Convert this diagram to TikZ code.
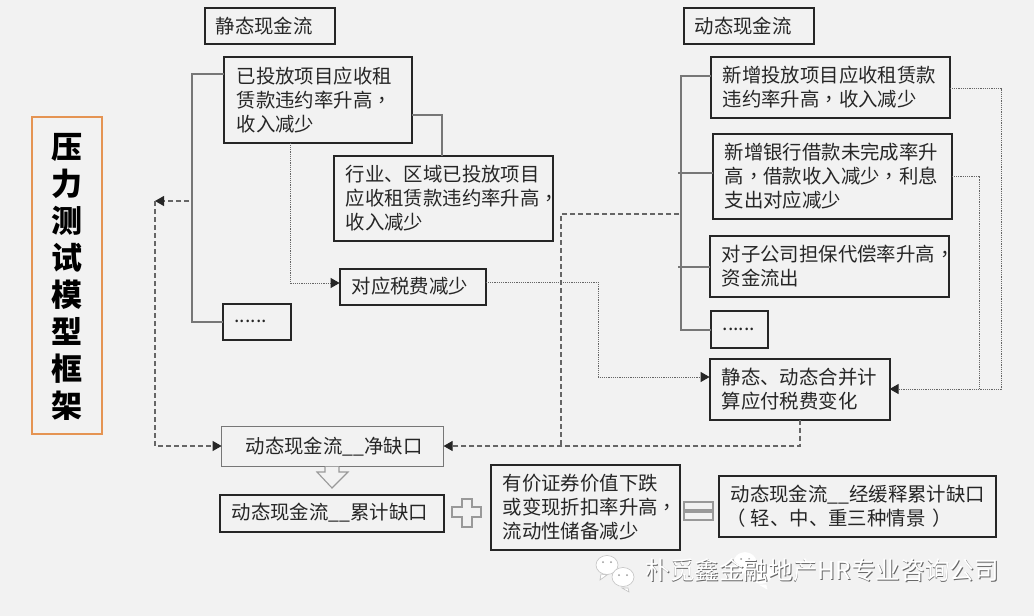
\documentclass[tikz,border=0pt]{standalone}
\usepackage{fontspec}
\setmainfont{Noto Sans CJK SC}
\newfontfamily\twfont{Noto Sans CJK TC}
\usetikzlibrary{arrows.meta,calc}
\definecolor{figbg}{HTML}{F2F2F2}
\definecolor{figink}{HTML}{262626}
\definecolor{figline}{HTML}{777777}
\definecolor{figdash}{HTML}{666666}
\definecolor{figsign}{HTML}{999999}
\definecolor{figorange}{HTML}{E59453}
\tikzset{
  fig/.style={font=\fontsize{19.4}{24}\selectfont,text=figink},
  box/.style={draw=figink,line width=1.9pt,outer sep=0pt,anchor=north west,align=left,inner xsep=0pt,inner ysep=0pt,
              xshift=.6pt,yshift=-.6pt},
  greybox/.style={box,draw=figline,line width=1.3pt},
  ln/.style={draw=figline,line width=1.05pt},
  dsh/.style={draw=figdash,line width=1.1pt,dash pattern=on 5pt off 3pt},
  dot/.style={draw=figdash,line width=1pt,dash pattern=on 1.2pt off 1pt},
  tip/.style={-{Triangle[length=9pt,width=10pt,color=figink]}},
  sign/.style={draw=figsign,line width=1.1pt,fill=figbg},
  wmark/.style={anchor=west,font=\fontsize{24.6}{27}\selectfont},
}
\newcommand{\cm}{{\twfont ，}}
\newcommand{\wxicon}[3]{%
  \begin{scope}[shift={(#1,#2)},draw=#3,fill=white,line width=.6pt]
    \filldraw (-6,9) -- (-7,15) -- (0,10) -- cycle;
    \filldraw (0,0) ellipse (11 and 9.5);
    \filldraw (21,23) -- (22,27) -- (15,23) -- cycle;
    \filldraw (16,12) ellipse (11 and 9.5);
    \fill[figsign] (-4,-3) circle (1) (4,-3) circle (1) (12,10) circle (1) (20,10) circle (1);
  \end{scope}}
\begin{document}
\begin{tikzpicture}[fig,x=1pt,y=-1pt]
\useasboundingbox[fill=figbg] (0,0) rectangle (1034,616);

\node[draw=figorange,line width=2.4pt,outer sep=0pt,anchor=north west,minimum width=70pt,minimum height=317pt] (frame) at (32,117) {};
\node[align=center,inner sep=0pt,text=black,font=\fontsize{31}{37}\selectfont\bfseries] (ftitle) at ($(frame.center)+(0,1.5)$)
  {压\\力\\测\\试\\模\\型\\框\\架};

\node[box,minimum width=130pt,minimum height=36pt,text width=108pt] (stat) at (204,7) {静态现金流};
\node[box,minimum width=130pt,minimum height=36pt,text width=108pt] (dyn) at (683,7) {动态现金流};

\node[box,minimum width=188pt,minimum height=86pt,text width=162pt] (b1) at (223,56)
  {已投放项目应收租\\赁款违约率升高\cm\\收入减少};
\node[box,minimum width=219pt,minimum height=85pt,text width=195pt] (b2) at (333,155)
  {行业、区域已投放项目\\应收租赁款违约率升高\cm\\收入减少};
\node[box,minimum width=146pt,minimum height=36pt,text width=122pt] (tax) at (339,268) {对应税费减少};
\node[box,minimum width=68pt,minimum height=36pt,text width=44pt] (dl) at (222,303) {......};

\node[box,minimum width=239pt,minimum height=61pt,text width=215pt] (r1) at (710,56)
  {新增投放项目应收租赁款\\违约率升高\cm 收入减少};
\node[box,minimum width=239pt,minimum height=85pt,text width=215pt] (r2) at (712,133)
  {新增银行借款未完成率升\\高\cm 借款收入减少\cm 利息\\支出对应减少};
\node[box,minimum width=239pt,minimum height=61pt,text width=215pt] (r3) at (709,235)
  {对子公司担保代偿率升高\cm\\资金流出};
\node[box,minimum width=57pt,minimum height=37pt,text width=33pt] (dr) at (710,310) {......};
\node[box,minimum width=180pt,minimum height=61pt,text width=156pt] (mg) at (709,358)
  {静态、动态合并计\\算应付税费变化};

\node[greybox,minimum width=222pt,minimum height=40pt,text width=174pt] (net) at (221,426) {动态现金流\_\_净缺口};
\node[box,minimum width=224pt,minimum height=37pt,text width=200pt] (cum) at (219,494) {动态现金流\_\_累计缺口};
\node[box,minimum width=189pt,minimum height=85pt,text width=165pt] (sec) at (490,464)
  {有价证券价值下跌\\或变现折扣率升高\cm\\流动性储备减少};
\node[box,minimum width=277pt,minimum height=61pt,text width=253pt] (buf) at (718,475)
  {动态现金流\_\_经缓释累计缺口\\\hspace{-4pt}（\hspace{5pt}轻、中、重三种情景\hspace{7pt}）};

% static branch
\coordinate (lt) at (192,74);
\coordinate (lb) at (192,322);
\draw[ln] (b1.west|-lt) -- (lt) -- (lb) -- (dl.west|-lb);
\draw[ln] (b1.east|-0,115) -- (442,115) -- (b2.north-|442,0);
\draw[dot,tip] (b1.south-|290,0) -- (290,283) -- (tax.west|-0,283);
\draw[dot,tip] (tax.east|-0,282) -- (598,282) -- (598,377) -- (mg.west|-0,377);

% dynamic branch
\coordinate (rt) at (681,76);
\coordinate (rb) at (681,330);
\draw[ln] (r1.west|-rt) -- (rt) -- (rb) -- (dr.west|-rb);
\draw[ln] (678,173) -- (r2.west|-0,173);
\draw[ln] (678,267) -- (r3.west|-0,267);
\draw[dot,tip] (r1.east|-0,88) -- (1001,88) -- (1001,389) -- (mg.east|-0,389);
\draw[dot] (r2.east|-0,176) -- (979,176) -- (979,389);

% dashed loop
\coordinate (bk) at (155,201);
\draw[dsh,tip] (189,201) -- (bk);
\draw[dsh,tip] (bk) -- (155,446) -- (net.west|-0,446);
\draw[dsh,tip] (mg.south-|800,0) -- (800,446) -- (net.east|-0,446);
\draw[dsh] (679,214) -- (561,214) -- (561,446);

% signs
\draw[sign] (net.south-|325,0) -- (325,472) -- (317,472) -- (332,488) -- (348,472) -- (339,472) -- (net.south-|339,0);
\draw[sign] (462,499) -- (472,499) -- (472,507) -- (481,507) -- (481,517) -- (472,517) -- (472,527)
  -- (462,527) -- (462,517) -- (452,517) -- (452,507) -- (462,507) -- cycle;
\draw[sign,line width=1.4pt] (684,502) rectangle (713,510);
\draw[sign,line width=1.4pt] (684,512) rectangle (713,520);

% watermark
\wxicon{745}{562}{white}
\wxicon{607}{565}{figbg!80!black}
\node[wmark,text=figdash] (wmshade) at (642.8,570.8) {朴觅鑫金融地产HR专业咨询公司};
\node[wmark,text=white] (wm) at (642,570) {朴觅鑫金融地产HR专业咨询公司};
\end{tikzpicture}
\end{document}
